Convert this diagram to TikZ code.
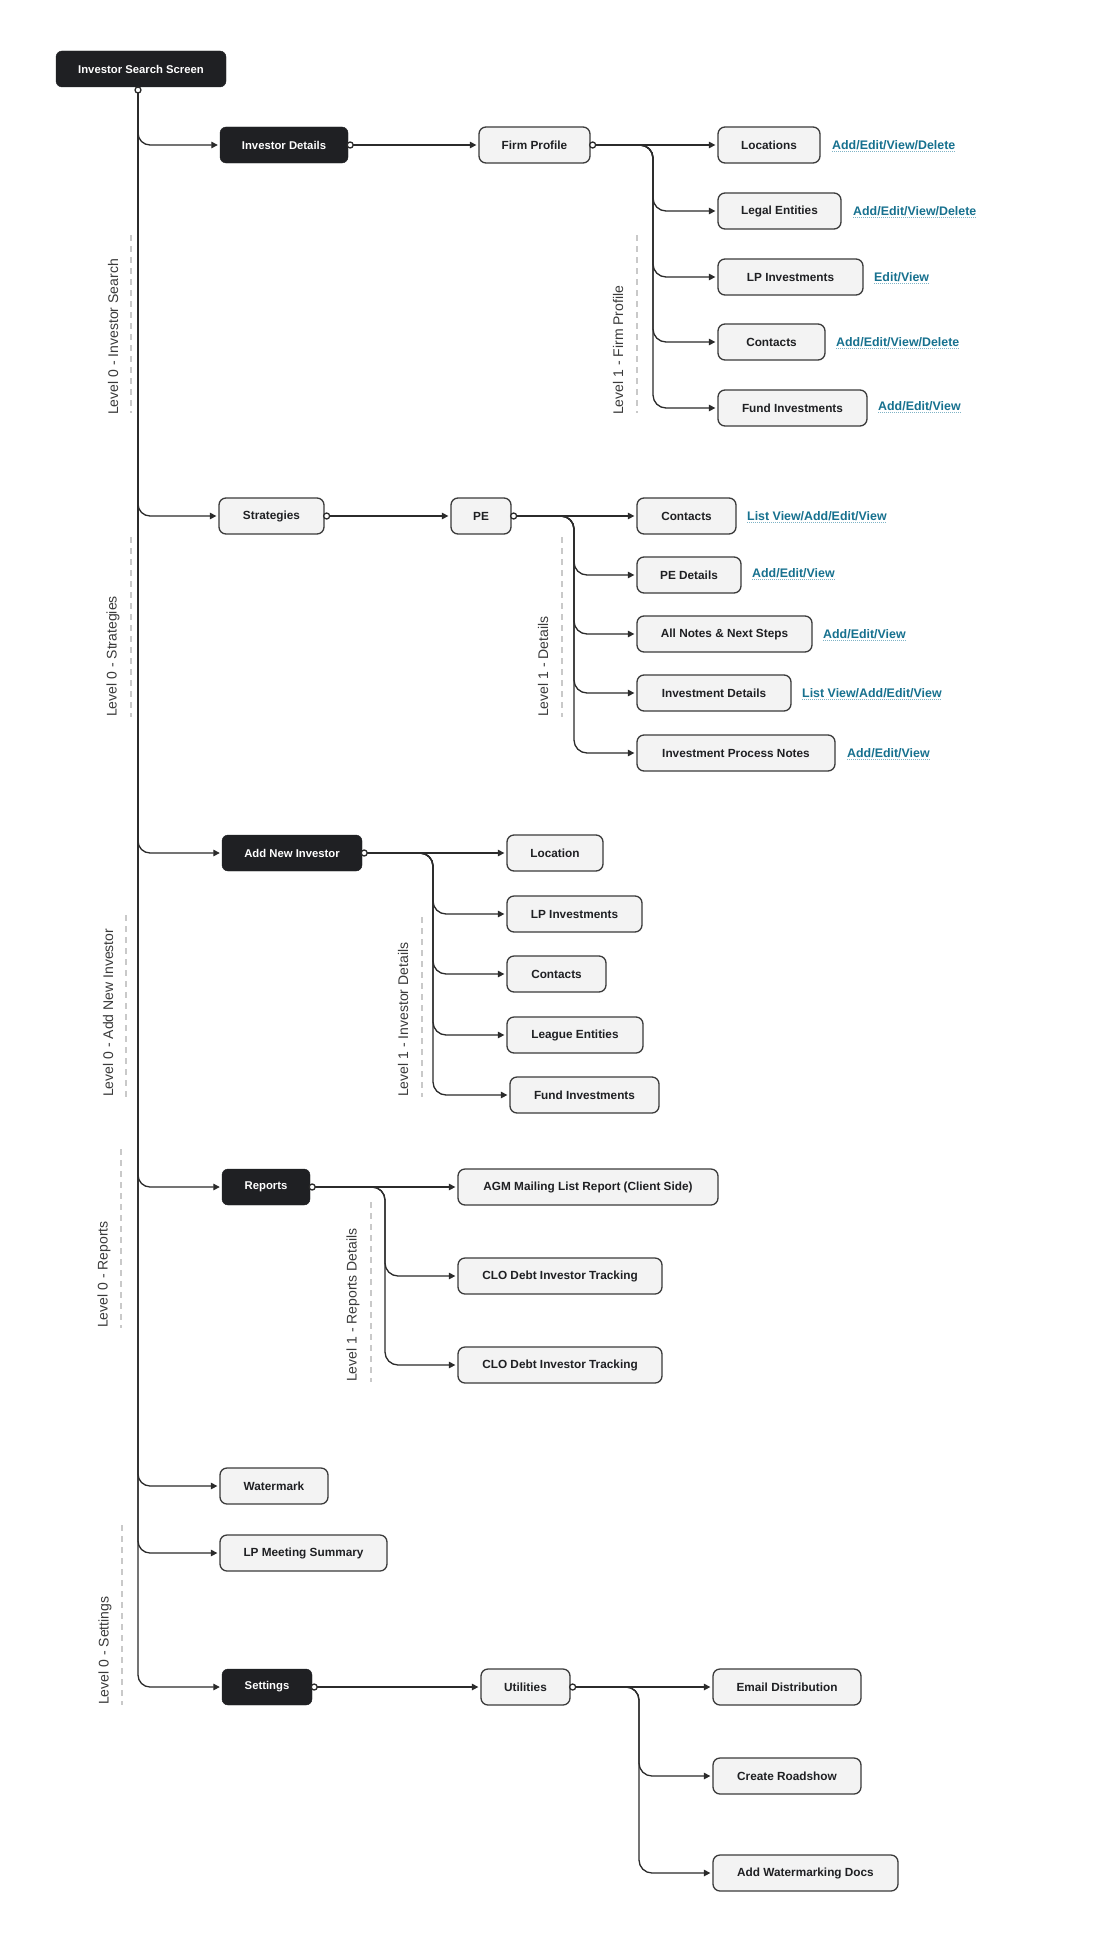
\documentclass[tikz,border=0pt]{standalone}
\usepackage{fontspec}
\setmainfont{Liberation Sans}
\usetikzlibrary{arrows.meta}
\definecolor{cdark}{HTML}{1F2023}
\definecolor{clight}{HTML}{F3F3F3}
\definecolor{cborder}{HTML}{3B3B3B}
\definecolor{cline}{HTML}{2B2B2B}
\definecolor{clink}{HTML}{17718F}
\definecolor{clinkul}{HTML}{7FB3C6}
\definecolor{cdash}{HTML}{C9C9C9}
\definecolor{clabel}{HTML}{3A3A3A}
\tikzset{
  darkbox/.style={rectangle, rounded corners=6pt, fill=cdark, draw=cdark, text=white,
    font=\bfseries\fontsize{11.3}{13}\selectfont, minimum height=36pt, inner sep=0pt},
  lightbox/.style={rectangle, rounded corners=7pt, fill=clight, draw=cborder, line width=1.3pt,
    text=cdark, font=\bfseries\fontsize{11.8}{13}\selectfont, minimum height=36pt, inner sep=0pt},
  linktext/.style={text=clink, font=\bfseries\fontsize{12.4}{14}\selectfont, inner sep=0pt, anchor=west},
  ulline/.style={draw=clinkul, line width=1.1pt, dash pattern=on 1pt off 1pt},
  conn/.style={draw=cline, line width=1.3pt, -{Triangle[length=6.5pt,width=6.5pt]}, shorten >=2pt},
  trunkline/.style={draw=cline, line width=1.3pt},
  startdot/.style={circle, draw=cline, fill=white, line width=1.3pt, minimum size=6pt, inner sep=0pt},
  lvltext/.style={text=clabel, font=\fontsize{14}{16}\selectfont, rotate=90, anchor=west, inner sep=0pt},
  lvldash/.style={draw=cdash, line width=1.5pt, dash pattern=on 6pt off 5pt},
}
\begin{document}
\begin{tikzpicture}[x=1pt,y=-1pt]
\useasboundingbox (0,0) rectangle (1108,1948);
\fill[white] (0,0) rectangle (1108,1948);

% ---------- level labels ----------
\draw[lvldash] (131,235) -- (131,413);
\node[lvltext] (l0a) at (113,415) {Level 0 - Investor Search};
\draw[lvldash] (131,537) -- (131,717);
\node[lvltext] (l0b) at (113,717) {Level 0 - Strategies};
\draw[lvldash] (126,915) -- (126,1097);
\node[lvltext] (l0c) at (108,1097) {Level 0 - Add New Investor};
\draw[lvldash] (121,1149) -- (121,1328);
\node[lvltext] (l0d) at (104,1328) {Level 0 - Reports};
\draw[lvldash] (122,1525) -- (122,1705);
\node[lvltext] (l0e) at (105,1705) {Level 0 - Settings};
\draw[lvldash] (637,235) -- (637,413);
\node[lvltext] (l1a) at (618,415) {Level 1 - Firm Profile};
\draw[lvldash] (562,537) -- (562,717);
\node[lvltext] (l1b) at (543,717) {Level 1 - Details};
\draw[lvldash] (422,917) -- (422,1097);
\node[lvltext] (l1c) at (403,1097) {Level 1 - Investor Details};
\draw[lvldash] (371,1202) -- (371,1382);
\node[lvltext] (l1d) at (353,1382) {Level 1 - Reports Details};

% ---------- nodes ----------
\node[darkbox, minimum width=170pt] (iss) at (141,69) {Investor Search Screen};
\node[darkbox, minimum width=128pt] (invd) at (284,145) {Investor Details};
\node[lightbox, minimum width=111pt] (fp) at (534.5,145) {Firm Profile};
\node[lightbox, minimum width=102pt] (loc) at (769,145) {Locations};
\node[lightbox, minimum width=123pt] (le) at (779.5,211) {Legal Entities};
\node[lightbox, minimum width=145pt] (lpi) at (790.5,277) {LP Investments};
\node[lightbox, minimum width=107pt] (cona) at (771.5,342) {Contacts};
\node[lightbox, minimum width=149pt] (fia) at (792.5,408) {Fund Investments};

\node[lightbox, minimum width=105pt] (str) at (271.5,516) {Strategies};
\node[lightbox, minimum width=60pt] (pe) at (481,516) {PE};
\node[lightbox, minimum width=99pt] (conb) at (686.5,516) {Contacts};
\node[lightbox, minimum width=104pt] (ped) at (689,575) {PE Details};
\node[lightbox, minimum width=175pt] (notes) at (724.5,634) {All Notes \& Next Steps};
\node[lightbox, minimum width=154pt] (invdet) at (714,693) {Investment Details};
\node[lightbox, minimum width=198pt] (ipn) at (736,753) {Investment Process Notes};

\node[darkbox, minimum width=140pt] (ani) at (292,853) {Add New Investor};
\node[lightbox, minimum width=96pt] (locb) at (555,853) {Location};
\node[lightbox, minimum width=135pt] (lpib) at (574.5,914) {LP Investments};
\node[lightbox, minimum width=99pt] (conc) at (556.5,974) {Contacts};
\node[lightbox, minimum width=136pt] (lge) at (575,1035) {League Entities};
\node[lightbox, minimum width=149pt] (fib) at (584.5,1095) {Fund Investments};

\node[darkbox, minimum width=88pt] (rep) at (266,1187) {Reports};
\node[lightbox, minimum width=260pt] (agm) at (588,1187) {AGM Mailing List Report (Client Side)};
\node[lightbox, minimum width=204pt] (cloa) at (560,1276) {CLO Debt Investor Tracking};
\node[lightbox, minimum width=204pt] (clob) at (560,1365) {CLO Debt Investor Tracking};

\node[lightbox, minimum width=108pt] (wm) at (274,1486) {Watermark};
\node[lightbox, minimum width=167pt] (lpm) at (303.5,1553) {LP Meeting Summary};
\node[darkbox, minimum width=90pt] (set) at (267,1687) {Settings};
\node[lightbox, minimum width=89pt] (util) at (525.5,1687) {Utilities};
\node[lightbox, minimum width=148pt] (email) at (787,1687) {Email Distribution};
\node[lightbox, minimum width=148pt] (road) at (787,1776) {Create Roadshow};
\node[lightbox, minimum width=185pt] (awd) at (805.5,1873) {Add Watermarking Docs};

% ---------- link labels ----------
\node[linktext] (k1) at (832,145) {Add/Edit/View/Delete};
\node[linktext] (k2) at (853,211) {Add/Edit/View/Delete};
\node[linktext] (k3) at (874,277) {Edit/View};
\node[linktext] (k4) at (836,342) {Add/Edit/View/Delete};
\node[linktext] (k5) at (878,406) {Add/Edit/View};
\node[linktext] (k6) at (747,516) {List View/Add/Edit/View};
\node[linktext] (k7) at (752,573) {Add/Edit/View};
\node[linktext] (k8) at (823,634) {Add/Edit/View};
\node[linktext] (k9) at (802,693) {List View/Add/Edit/View};
\node[linktext] (k10) at (847,753) {Add/Edit/View};
\foreach \k in {k1,k2,k3,k4,k5,k6,k7,k8,k9,k10}{
  \draw[ulline] ([yshift=-2.2pt]\k.base west) -- ([yshift=-2.2pt]\k.base east);
}

% ---------- connectors ----------
\coordinate (t0) at (138,90);
\foreach \c in {invd,str,ani,rep,wm,lpm,set}{
  \draw[conn, rounded corners=12pt] (t0) |- (\c.west);
}
% investor details -> firm profile
\coordinate (d1) at ([xshift=2pt]invd.east);
\draw[conn] (d1) -- (fp.west);
% firm profile children
\coordinate (d2) at ([xshift=2pt]fp.east);
\draw[conn] (d2) -- (loc.west);
\foreach \c in {le,lpi,cona,fia}{
  \draw[conn, rounded corners=13pt] (d2) -- (653,145) |- (\c.west);
}
% strategies -> PE
\coordinate (d3) at ([xshift=2pt]str.east);
\draw[conn] (d3) -- (pe.west);
\coordinate (d4) at ([xshift=2pt]pe.east);
\draw[conn] (d4) -- (conb.west);
\foreach \c in {ped,notes,invdet,ipn}{
  \draw[conn, rounded corners=13pt] (d4) -- (574,516) |- (\c.west);
}
% add new investor children
\coordinate (d5) at ([xshift=2pt]ani.east);
\draw[conn] (d5) -- (locb.west);
\foreach \c in {lpib,conc,lge,fib}{
  \draw[conn, rounded corners=13pt] (d5) -- (433,853) |- (\c.west);
}
% reports children
\coordinate (d6) at ([xshift=2pt]rep.east);
\draw[conn] (d6) -- (agm.west);
\foreach \c in {cloa,clob}{
  \draw[conn, rounded corners=13pt] (d6) -- (385,1187) |- (\c.west);
}
% settings -> utilities
\coordinate (d7) at ([xshift=2pt]set.east);
\draw[conn] (d7) -- (util.west);
\coordinate (d8) at ([xshift=2pt]util.east);
\draw[conn] (d8) -- (email.west);
\foreach \c in {road,awd}{
  \draw[conn, rounded corners=13pt] (d8) -- (639,1687) |- (\c.west);
}

% ---------- start dots ----------
\foreach \d in {t0,d1,d2,d3,d4,d5,d6,d7,d8}{
  \node[startdot] at (\d) {};
}
\end{tikzpicture}
\end{document}
